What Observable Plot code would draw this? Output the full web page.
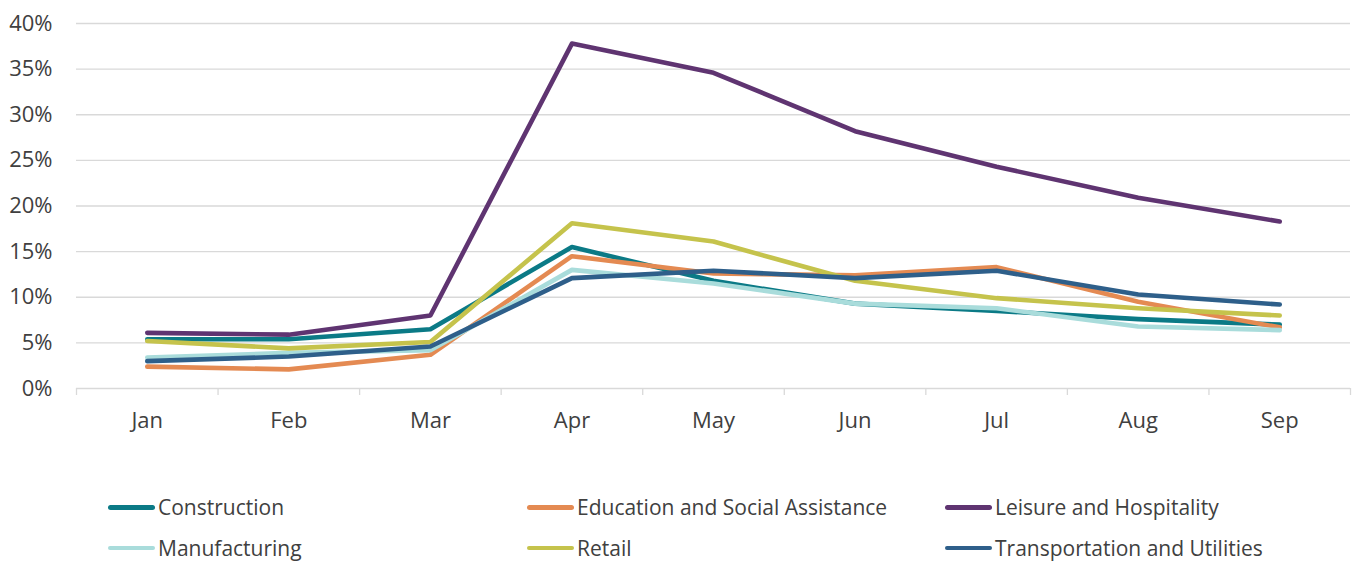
<!DOCTYPE html>
<html><head><meta charset="utf-8">
<script src="https://cdn.jsdelivr.net/npm/d3@7"></script>
<script src="https://cdn.jsdelivr.net/npm/@observablehq/plot@0.6"></script>
<style>
body{margin:0;background:#fff;font-family:"Open Sans",sans-serif;}
#chart svg{display:block}
.legend{display:grid;grid-template-columns:419px 418px auto;grid-auto-rows:40.5px;padding:37px 0 0 108px;}
.item{display:flex;align-items:center;font-size:21px;color:#404040;white-space:nowrap}
.sw{width:47px;height:4.5px;border-radius:2.5px;margin-right:3px;flex:none}
</style></head><body><div id="chart"></div><div class="legend" id="legend"></div><script>
const months = ["Jan","Feb","Mar","Apr","May","Jun","Jul","Aug","Sep"];
const seriesNames = ["Construction","Education and Social Assistance","Leisure and Hospitality","Manufacturing","Retail","Transportation and Utilities"];
const colors = ["#0B7A86","#E48A52","#5F3471","#A9DCDB","#C5C34C","#2E5F8A"];
const construction = [5.4, 5.4, 6.5, 15.5, 11.8, 9.3, 8.5, 7.6, 7.0];
const education =    [2.4, 2.1, 3.7, 14.5, 12.6, 12.4, 13.3, 9.5, 6.7];
const leisure =      [6.1, 5.9, 8.0, 37.8, 34.6, 28.2, 24.3, 20.9, 18.3];
const manufacturing =[3.4, 3.9, 4.2, 13.0, 11.5, 9.3, 8.8, 6.8, 6.4];
const retail =       [5.2, 4.4, 5.1, 18.1, 16.1, 11.8, 9.9, 8.8, 8.0];
const transport =    [3.0, 3.5, 4.6, 12.1, 12.9, 12.1, 12.9, 10.3, 9.2];
const yTicks = [0,5,10,15,20,25,30,35,40];

const seriesValues = [construction, education, leisure, manufacturing, retail, transport];
const rows = seriesNames.flatMap((s, i) => months.map((m, j) => ({series: s, month: m, value: seriesValues[i][j]})));

const W = 1354, H = 450, mL = 76, mR = 4;
const step = (W - mL - mR) / months.length;
const chart = Plot.plot({
  width: W, height: H, marginLeft: mL, marginRight: mR, marginTop: 23, marginBottom: 62,
  style: {fontFamily: '"Open Sans", sans-serif', fontSize: "22px", color: "#404040", background: "#fff", overflow: "visible"},
  x: {type: "point", domain: months, padding: 0.5, round: false},
  y: {domain: [0, 40]},
  color: {domain: seriesNames, range: colors},
  marks: [
    Plot.gridY(yTicks, {stroke: "#d9d9d9", strokeOpacity: 1, strokeWidth: 1.3}),
    Plot.axisY(yTicks, {tickSize: 0, tickPadding: 24, tickFormat: d => d + "%", fill: "#404040", label: null}),
    Plot.axisX(months, {tickSize: 0, tickPadding: 24, fill: "#404040", label: null}),
    Plot.axisX(months, {tickSize: 7, tickFormat: () => "", dx: -step / 2, stroke: "#d9d9d9", strokeWidth: 1.3, strokeOpacity: 1, label: null}),
    Plot.axisX([months[months.length - 1]], {tickSize: 7, tickFormat: () => "", dx: step / 2, stroke: "#d9d9d9", strokeWidth: 1.3, strokeOpacity: 1, label: null}),
    Plot.lineY(rows, {x: "month", y: "value", stroke: "series", z: "series", strokeWidth: 4.6, strokeLinecap: "round", strokeLinejoin: "round"})
  ]
});
document.getElementById("chart").append(chart);

const legend = document.getElementById("legend");
seriesNames.forEach((s, i) => {
  const it = document.createElement("div");
  it.className = "item";
  const sw = document.createElement("span");
  sw.className = "sw";
  sw.style.background = colors[i];
  it.append(sw, document.createTextNode(s));
  legend.append(it);
});
</script></body></html>
